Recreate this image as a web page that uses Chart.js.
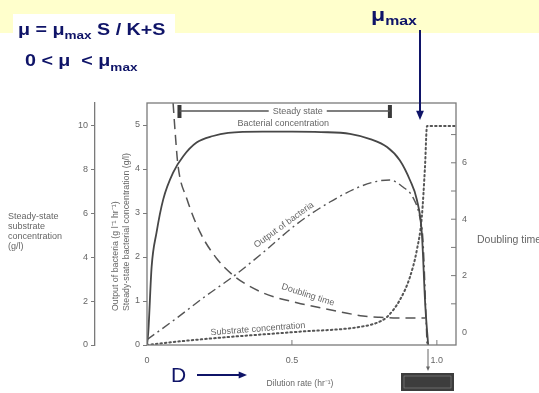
<!DOCTYPE html>
<html>
<head>
<meta charset="utf-8">
<script src="https://cdn.jsdelivr.net/npm/chart.js@4.4.1/dist/chart.umd.min.js"></script>
<style>
  html, body { margin: 0; padding: 0; background: #fff; }
  #wrap { position: relative; width: 539px; height: 393px; overflow: hidden; }
</style>
</head>
<body>
<div id="wrap"><canvas id="chemostat" width="539" height="393"></canvas></div>
<script>
// ── Data (x = dilution rate D, hr^-1) ──────────────────────────────
const bactD    = [0, 0.0045, 0.016, 0.033, 0.056, 0.091, 0.125, 0.171, 0.228, 0.28, 0.4, 0.5, 0.6, 0.7, 0.77, 0.828, 0.872, 0.907, 0.931, 0.948, 0.96, 0.97];
const bactConc = [0, 0.3, 1.78, 2.56, 3.31, 3.93, 4.29, 4.6, 4.75, 4.82, 4.85, 4.85, 4.84, 4.8, 4.68, 4.5, 4.2, 3.75, 3.3, 2.55, 0.9, 0];

const outD    = [0, 0.1, 0.2, 0.3, 0.4, 0.517, 0.631, 0.724, 0.793, 0.838, 0.883, 0.917, 0.941, 0.952, 0.966];
const outRate = [0.12, 0.6, 1.1, 1.57, 2.1, 2.75, 3.25, 3.57, 3.72, 3.75, 3.59, 3.36, 2.91, 2.39, 0];

const dblD    = [0.09, 0.097, 0.107, 0.138, 0.183, 0.241, 0.3, 0.4, 0.517, 0.631, 0.745, 0.803, 0.85, 0.959];
const dblTime = [8.12, 7.1, 5.9, 4.71, 3.54, 2.6, 1.99, 1.39, 1.04, 0.79, 0.57, 0.52, 0.5, 0.5];

const subD    = [0, 0.1, 0.286, 0.517, 0.745, 0.8, 0.828, 0.872, 0.907, 0.931, 0.948, 0.959, 0.966, 1.066];
const subConc = [0, 0.15, 0.37, 0.6, 0.85, 1.05, 1.28, 2.05, 3.1, 4.34, 5.84, 8.13, 10, 10];

// tick labels
const xTicks         = [0, 0.5, 1.0];
const substrateTicks = [0, 2, 4, 6, 8, 10];
const bacteriaTicks  = [0, 1, 2, 3, 4, 5];
const doublingTicks  = [0, 1, 2, 3, 4, 5, 6, 7];

// steady-state bracket (D range)
const steadyFrom = 0.112;
const steadyTo   = 0.838;

// ── Style tokens ───────────────────────────────────────────────
const INK  = '#474747';
const TEXT = '#666';
const AXIS = '#7a7a7a';
const NAVY = '#0f1468';
const FONT = '"Liberation Sans", Arial, sans-serif';

const pts = (xs, ys) => xs.map((x, i) => ({ x, y: ys[i] }));
const fixedTicks = list => s => { s.ticks = list.map(v => ({ value: v })); };

function arrow(ctx, x1, y1, x2, y2, head, color, width) {
    const ang = Math.atan2(y2 - y1, x2 - x1);
    ctx.strokeStyle = color;
    ctx.fillStyle = color;
    ctx.lineWidth = width;
    ctx.beginPath();
    ctx.moveTo(x1, y1);
    ctx.lineTo(x2 - Math.cos(ang) * head * 0.8, y2 - Math.sin(ang) * head * 0.8);
    ctx.stroke();
    ctx.beginPath();
    ctx.moveTo(x2, y2);
    ctx.lineTo(x2 - Math.cos(ang - 0.4) * head, y2 - Math.sin(ang - 0.4) * head);
    ctx.lineTo(x2 - Math.cos(ang + 0.4) * head, y2 - Math.sin(ang + 0.4) * head);
    ctx.closePath();
    ctx.fill();
}

// bold text run with subscripts, stretched horizontally like the slide font
function subText(ctx, parts, x, y, sx) {
    ctx.save();
    ctx.translate(x, y);
    ctx.scale(sx, 1);
    let cx = 0;
    parts.forEach(([str, size, dy]) => {
        ctx.font = `bold ${size}px ${FONT}`;
        ctx.fillText(str, cx, dy);
        cx += ctx.measureText(str).width;
    });
    ctx.restore();
}

function rotLabel(ctx, text, x, y, deg, align) {
    ctx.save();
    ctx.translate(x, y);
    ctx.rotate(deg * Math.PI / 180);
    ctx.textAlign = align || 'center';
    ctx.fillText(text, 0, 0);
    ctx.restore();
}

// ── Decorations: frame, annotations, slide overlay ─────────────
const decor = {
    id: 'decor',
    beforeDraw(chart) {
        const { ctx, width, height } = chart;
        ctx.save();
        ctx.fillStyle = '#fff';
        ctx.fillRect(0, 0, width, height);
        ctx.fillStyle = '#ffffcc';
        ctx.fillRect(0, 0, width, 33);
        ctx.fillStyle = '#fff';
        ctx.fillRect(13, 14, 162, 20);
        ctx.restore();
    },
    afterDraw(chart) {
        const { ctx, chartArea: a, scales } = chart;
        const x = scales.x, yT = scales.yT;
        ctx.save();

        // plot frame
        ctx.strokeStyle = AXIS;
        ctx.lineWidth = 1.3;
        ctx.strokeRect(a.left, a.top, a.right - a.left, a.bottom - a.top);

        // inward ticks on the x axis and the doubling-time axis
        ctx.beginPath();
        xTicks.slice(1).forEach(v => {
            const px = x.getPixelForValue(v);
            ctx.moveTo(px, a.bottom);
            ctx.lineTo(px, a.bottom - 5);
        });
        doublingTicks.slice(1).forEach(v => {
            const py = yT.getPixelForValue(v);
            ctx.moveTo(a.right, py);
            ctx.lineTo(a.right - 5, py);
        });
        ctx.lineWidth = 1;
        ctx.stroke();

        // steady-state bracket
        const sx1 = x.getPixelForValue(steadyFrom);
        const sx2 = x.getPixelForValue(steadyTo);
        const sy = a.top + 8;
        const tx = x.getPixelForValue(0.52);
        ctx.font = `9px ${FONT}`;
        const tw = ctx.measureText('Steady state').width;
        ctx.fillStyle = '#3a3a3a';
        ctx.fillRect(sx1 - 2, sy - 6, 4, 13);
        ctx.fillRect(sx2 - 2, sy - 6, 4, 13);
        ctx.strokeStyle = '#555';
        ctx.lineWidth = 1.3;
        ctx.beginPath();
        ctx.moveTo(sx1, sy); ctx.lineTo(tx - tw / 2 - 4, sy);
        ctx.moveTo(tx + tw / 2 + 4, sy); ctx.lineTo(sx2, sy);
        ctx.stroke();

        ctx.fillStyle = TEXT;
        ctx.textBaseline = 'middle';
        ctx.textAlign = 'center';
        ctx.fillText('Steady state', tx, sy + 1);
        ctx.fillText('Bacterial concentration', x.getPixelForValue(0.47), a.top + 21);

        // curve labels
        rotLabel(ctx, 'Output of bacteria', 284, 225, -36);
        rotLabel(ctx, 'Doubling time', 308, 295, 18);
        rotLabel(ctx, 'Substrate concentration', 258, 329, -4.5);

        // axis titles
        ctx.textAlign = 'left';
        ['Steady-state', 'substrate', 'concentration', '(g/l)'].forEach((s, i) => {
            ctx.fillText(s, 8, 217 + i * 10);
        });
        ctx.font = `10.5px ${FONT}`;
        ctx.fillText('Doubling time', 477, 240);
        ctx.font = `8.8px ${FONT}`;
        rotLabel(ctx, 'Output of bacteria (g l\u207B\u00B9 hr\u207B\u00B9)', 116, 311, -90, 'left');
        rotLabel(ctx, 'Steady-state bacterial concentration (g/l)', 127, 311, -90, 'left');
        ctx.font = `8.5px ${FONT}`;
        ctx.textAlign = 'center';
        ctx.fillText('Dilution rate (hr\u207B\u00B9)', 300, 384);

        // washout marker below D = 1.0
        arrow(ctx, 428, 349, 428, 371, 5, '#666', 1);
        ctx.fillStyle = '#3d3d3d';
        ctx.fillRect(401, 373, 53, 18);
        ctx.strokeStyle = '#8a8a8a';
        ctx.lineWidth = 0.6;
        ctx.strokeRect(404, 376, 47, 12);

        // slide overlay in navy
        ctx.fillStyle = NAVY;
        ctx.textAlign = 'left';
        ctx.textBaseline = 'alphabetic';
        subText(ctx, [['\u03BC = \u03BC', 16, 0], ['max', 11, 4], [' S / K+S', 16, 0]], 18, 34.5, 1.23);
        subText(ctx, [['0 < \u03BC  < \u03BC', 16, 0], ['max', 11, 5]], 25, 65.5, 1.23);
        subText(ctx, [['\u03BC', 19, 0], ['max', 13, 4]], 371, 21, 1.22);
        arrow(ctx, 420, 30, 420, 120, 10, NAVY, 2);

        ctx.font = `21px ${FONT}`;
        ctx.fillText('D', 171, 382);
        arrow(ctx, 197, 375, 247, 375, 9, NAVY, 2);

        ctx.restore();
    }
};

// ── Chart ──────────────────────────────────────────────────────
const tickFont = { family: FONT, size: 9 };

new Chart(document.getElementById('chemostat'), {
    type: 'line',
    data: {
        datasets: [
            {
                label: 'Bacterial concentration',
                data: pts(bactD, bactConc),
                yAxisID: 'yB',
                borderColor: INK,
                borderWidth: 1.8,
                cubicInterpolationMode: 'monotone'
            },
            {
                label: 'Output of bacteria',
                data: pts(outD, outRate),
                yAxisID: 'yB',
                borderColor: '#555',
                borderWidth: 1.4,
                borderDash: [9, 4, 2, 4],
                cubicInterpolationMode: 'monotone'
            },
            {
                label: 'Doubling time',
                data: pts(dblD, dblTime),
                yAxisID: 'yT',
                borderColor: '#555',
                borderWidth: 1.5,
                borderDash: [10, 6],
                cubicInterpolationMode: 'monotone'
            },
            {
                label: 'Substrate concentration',
                data: pts(subD, subConc),
                yAxisID: 'yS',
                borderColor: '#555',
                borderWidth: 2,
                borderDash: [1.5, 3],
                borderCapStyle: 'round',
                cubicInterpolationMode: 'monotone'
            }
        ]
    },
    options: {
        responsive: false,
        animation: false,
        events: [],
        elements: { point: { radius: 0 } },
        layout: { padding: { top: 103, left: 0, right: 0, bottom: 0 } },
        plugins: { legend: { display: false }, tooltip: { enabled: false } },
        scales: {
            x: {
                type: 'linear',
                min: 0,
                max: 1.066,
                afterBuildTicks: fixedTicks(xTicks),
                afterFit: s => { s.height = 48; },
                ticks: {
                    font: tickFont, color: TEXT, padding: 2, maxRotation: 0,
                    callback: v => v === 0 ? '0' : v.toFixed(1)
                },
                grid: { display: false },
                border: { display: false }
            },
            yS: {
                position: 'left',
                weight: 2,
                min: 0,
                max: 11.05,
                afterBuildTicks: fixedTicks(substrateTicks),
                afterFit: s => { s.width = 95; },
                ticks: { font: tickFont, color: TEXT, padding: 3 },
                grid: { drawOnChartArea: false, drawTicks: true, tickLength: 4, color: AXIS },
                border: { display: true, color: AXIS, width: 1.3 }
            },
            yB: {
                position: 'left',
                weight: 1,
                min: 0,
                max: 5.5,
                afterBuildTicks: fixedTicks(bacteriaTicks),
                afterFit: s => { s.width = 52; },
                ticks: { font: tickFont, color: TEXT, padding: 3 },
                grid: { drawOnChartArea: false, drawTicks: true, tickLength: 4, color: AXIS },
                border: { display: false }
            },
            yT: {
                position: 'right',
                min: -0.46,
                max: 8.12,
                afterBuildTicks: fixedTicks(doublingTicks),
                afterFit: s => { s.width = 83; },
                ticks: {
                    font: tickFont, color: TEXT, padding: 6,
                    callback: v => v % 2 === 0 ? String(v) : ''
                },
                grid: { drawOnChartArea: false, drawTicks: false },
                border: { display: false }
            }
        }
    },
    plugins: [decor]
});
</script>
</body>
</html>
